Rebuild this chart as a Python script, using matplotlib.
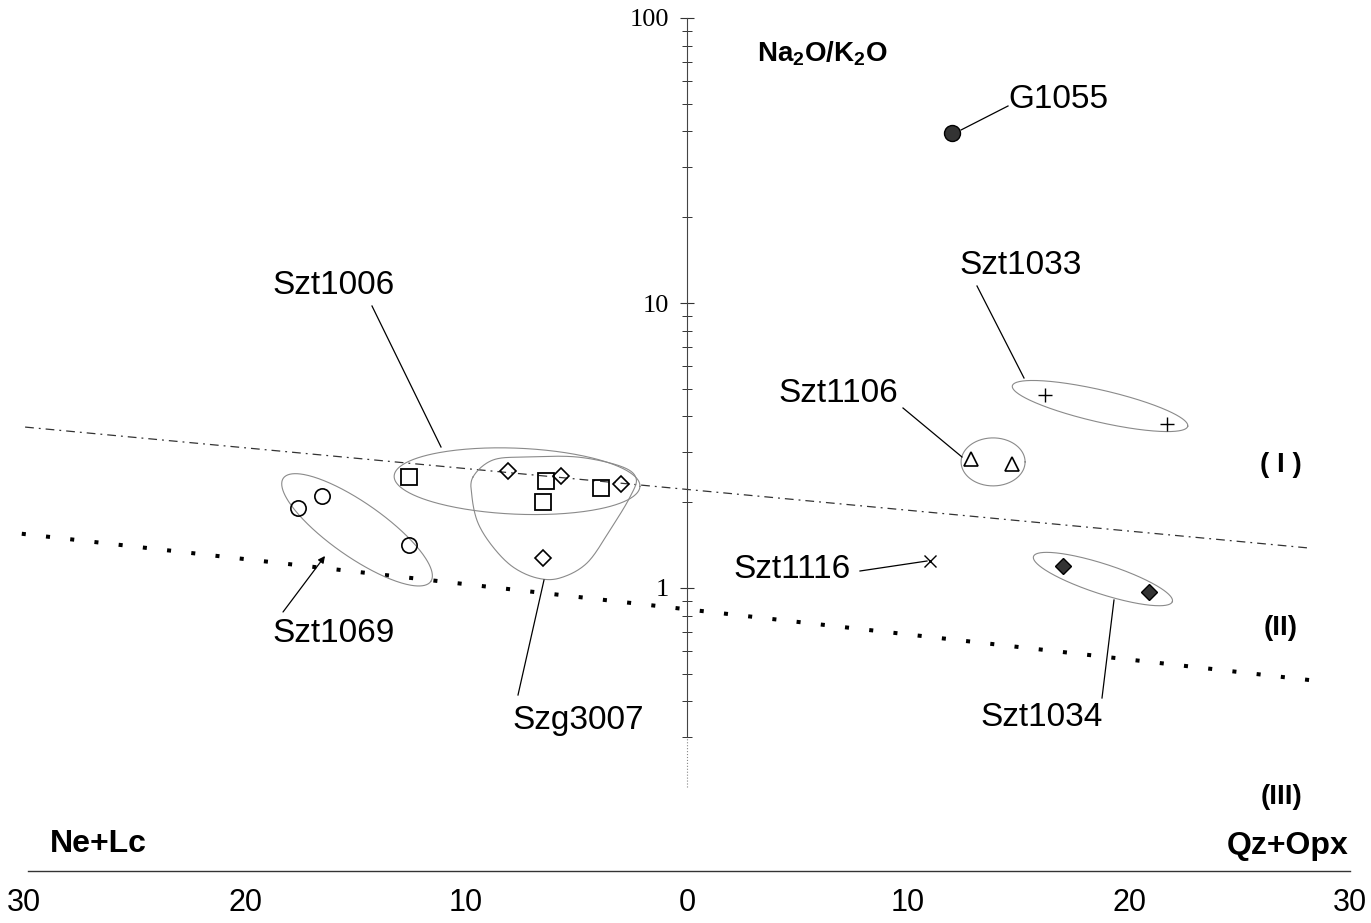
import numpy as np
import matplotlib
matplotlib.use('Agg')
import matplotlib.pyplot as plt

# samples: x = normative Ne+Lc (negative side) / Qz+Opx (positive side), y = Na2O/K2O
g1055_x = [12.0]
g1055_y = [39.5]
szt1033_x = [16.2, 21.7]
szt1033_y = [4.76, 3.76]
szt1106_x = [12.85, 14.7]
szt1106_y = [2.84, 2.72]
szt1116_x = [11.0]
szt1116_y = [1.24]
szt1034_x = [17.0, 20.9]
szt1034_y = [1.19, 0.97]
szt1006_x = [-12.6, -6.4, -3.9, -6.5]
szt1006_y = [2.45, 2.37, 2.24, 2.00]
szg3007_x = [-8.1, -5.7, -3.0, -6.5]
szg3007_y = [2.57, 2.47, 2.32, 1.27]
szt1069_x = [-17.6, -16.5, -12.6]
szt1069_y = [1.91, 2.10, 1.42]

# field boundaries (I)/(II) and (II)/(III)
bound12_x = [-29.95, 28.2]
bound12_y = [3.67, 1.38]
bound23_x = [-30.1, 28.2]
bound23_y = [1.55, 0.475]

xtick_vals = [-30, -20, -10, 0, 10, 20, 30]
xtick_labels = ['30', '20', '10', '0', '10', '20', '30']
ytick_vals = [1, 10, 100]
ytick_labels = ['1', '10', '100']

# layout (pixels of the 1371x923 picture)
W, H = 1371, 923
X0, SX = 687, 22.1      # px of x=0, px per unit
Y1, SY = 588, 285       # px of y=1, px per decade
AXB = 871               # px of the horizontal axis line


def to_px(x, y):
    return X0 + SX * np.asarray(x), Y1 - SY * np.log10(y)


def to_data(px, py):
    return (np.asarray(px, float) - X0) / SX, 10 ** ((Y1 - np.asarray(py, float)) / SY)


plt.rcParams['font.family'] = ['Liberation Sans', 'DejaVu Sans']
plt.rcParams['mathtext.fontset'] = 'custom'
plt.rcParams['mathtext.rm'] = 'Liberation Sans'
plt.rcParams['mathtext.bf'] = 'Liberation Sans:bold'

fig = plt.figure(figsize=(W / 100, H / 100), dpi=100)
ax = fig.add_axes([0, (H - AXB) / H, 1, AXB / H])
ax.set_yscale('log')
ax.set_xlim(to_data(0, 1)[0], to_data(W, 1)[0])
ax.set_ylim(to_data(0, AXB)[1], to_data(0, 0)[1])

# axes
ax.spines['top'].set_visible(False)
ax.spines['right'].set_visible(False)
ax.spines['left'].set_position(('data', 0))
ax.spines['left'].set_bounds(0.3, 100)
ax.spines['left'].set_color('#444444')
ax.spines['left'].set_linewidth(0.8)
ax.spines['bottom'].set_bounds(-29.8, 30)
ax.spines['bottom'].set_color('#333333')
ax.spines['bottom'].set_linewidth(1.0)
ax.plot([0, 0], [0.2, 0.3], color='#888888', lw=0.8, ls=':')

ax.set_yticks(ytick_vals, labels=ytick_labels)
minor = [m * d for d in [0.1, 1, 10] for m in range(2, 10) if m * d >= 0.3]
ax.set_yticks(minor, minor=True)
ax.yaxis.set_minor_formatter(matplotlib.ticker.NullFormatter())
ax.tick_params(axis='y', which='major', direction='inout', length=9.5, width=0.8,
               color='#333333', labelsize=19, pad=8)
ax.tick_params(axis='y', which='minor', direction='inout', length=7, width=0.7,
               color='#333333')
for lbl in ax.get_yticklabels():
    lbl.set_fontfamily('Liberation Serif')

ax.set_xticks(xtick_vals, labels=xtick_labels)
ax.tick_params(axis='x', length=0, labelsize=22, pad=12)

# boundaries
ax.plot(bound12_x, bound12_y, color='#333333', lw=0.9, ls=(0, (7, 4, 1.5, 4)))
ax.plot(bound23_x, bound23_y, color='k', lw=2.9, ls=(0, (1, 5.05)), dash_capstyle='butt')

# group outlines
def ellipse(cx, cy, w, h, ang):
    pcx, pcy = to_px(cx, cy)
    t = np.linspace(0, 2 * np.pi, 300)
    a = np.radians(ang)
    ex, ey = w / 2 * np.cos(t), h / 2 * np.sin(t)
    px = pcx + ex * np.cos(a) - ey * np.sin(a)
    py = pcy - (ex * np.sin(a) + ey * np.cos(a))
    x, y = to_data(px, py)
    ax.plot(x, y, color='#8a8a8a', lw=0.8)


def closed_spline(pts, n=24):
    pts = np.asarray(pts, float)
    N = len(pts)
    out = []
    t = np.linspace(0, 1, n, endpoint=False)[:, None]
    for i in range(N):
        p0, p1, p2, p3 = pts[i - 1], pts[i], pts[(i + 1) % N], pts[(i + 2) % N]
        out.append(0.5 * (2 * p1 + (-p0 + p2) * t + (2 * p0 - 5 * p1 + 4 * p2 - p3) * t ** 2
                          + (-p0 + 3 * p1 - 3 * p2 + p3) * t ** 3))
    out.append(out[0][:1])
    return np.vstack(out)


ellipse(18.69, 4.35, 180, 32, -13)    # Szt1033
ellipse(13.85, 2.77, 64, 48, 0)       # Szt1106
ellipse(18.82, 1.075, 146, 30, -18)   # Szt1034
ellipse(-7.69, 2.37, 246, 66, -2.4)   # Szt1006
ellipse(-14.93, 1.60, 180, 54, -35)   # Szt1069
tear = closed_spline([(473, 477), (493, 460), (527, 457), (577, 457), (620, 466), (636, 478),
                      (630, 497), (610, 530), (587, 563), (560, 578), (537, 578), (513, 567),
                      (493, 547), (478, 523), (472, 497)])
tx, ty = to_data(tear[:, 0], tear[:, 1])
ax.plot(tx, ty, color='#8a8a8a', lw=0.8)   # Szg3007

# samples
ax.plot(szt1069_x, szt1069_y, 'o', ms=11, mfc='none', mec='k', mew=1.2)
ax.plot(szt1006_x, szt1006_y, 's', ms=11, mfc='none', mec='k', mew=1.3)
ax.plot(szg3007_x, szg3007_y, 'D', ms=7.8, mfc='none', mec='k', mew=1.2)
ax.plot(szt1106_x, szt1106_y, '^', ms=10.5, mfc='none', mec='k', mew=1.2)
ax.plot(szt1033_x, szt1033_y, '+', ms=10, mec='k', mew=1.0)
ax.plot(szt1116_x, szt1116_y, 'x', ms=9, mec='k', mew=1.0)
ax.plot(szt1034_x, szt1034_y, 'D', ms=8, mfc='#333333', mec='k', mew=1.0)
ax.plot(g1055_x, g1055_y, 'o', ms=11.5, mfc='#333333', mec='k', mew=1.0)

# sample names with leader lines (positions in picture pixels)
names = [
    ('G1055', (1058, 100), (1008, 106), (961, 130)),
    ('Szt1033', (1021, 265), (977, 286), (1024, 378)),
    ('Szt1106', (838, 394), (903, 408), (962, 457)),
    ('Szt1116', (792, 569), (860, 571), (927, 561)),
    ('Szt1034', (1042, 718), (1102, 698), (1114, 600)),
    ('Szt1006', (334, 285), (372, 306), (441, 447)),
    ('Szt1069', (334, 634), (283, 612), (325, 556)),
    ('Szg3007', (578, 720), (518, 695), (544, 580)),
]
for name, tp, p0, p1 in names:
    x, y = to_data(*tp)
    ax.text(x, y, name, fontsize=24, ha='center', va='center')
    (xa, xb), (ya, yb) = to_data([p0[0], p1[0]], [p0[1], p1[1]])
    if name == 'Szt1069':
        ax.annotate('', xy=(xb, yb), xytext=(xa, ya),
                    arrowprops=dict(arrowstyle='-|>', color='k', lw=0.9,
                                    mutation_scale=10, shrinkA=0, shrinkB=0))
    else:
        ax.plot([xa, xb], [ya, yb], color='k', lw=0.9)

# axis titles and field labels
for txt, tp, ha, fs in [(r'$\mathbf{Na_2O/K_2O}$', (757, 54), 'left', 20),
                        ('Ne+Lc', (50, 844), 'left', 23),
                        ('Qz+Opx', (1348, 846), 'right', 23),
                        ('( I )', (1281, 465), 'center', 20),
                        ('(II)', (1281, 628), 'center', 20),
                        ('(III)', (1281, 797), 'center', 20)]:
    x, y = to_data(*tp)
    ax.text(x, y, txt, fontsize=fs, fontweight='bold', ha=ha, va='center')

fig.savefig('out.png', dpi=100)
